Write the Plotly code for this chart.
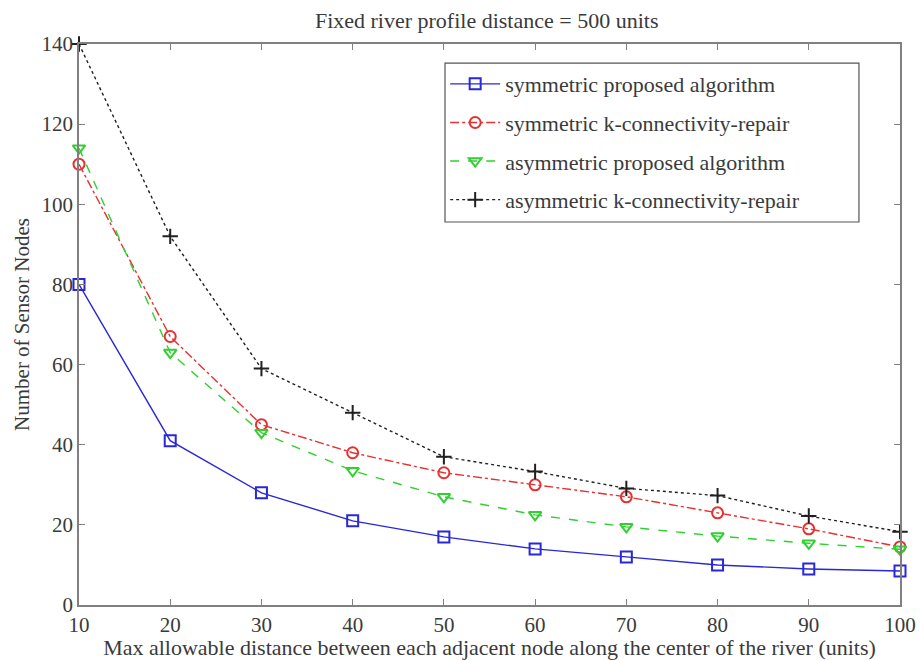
import plotly.graph_objects as go

x_vals = [10, 20, 30, 40, 50, 60, 70, 80, 90, 100]
sym_proposed = [80, 41, 28, 21, 17, 14, 12, 10, 9, 8.5]
sym_kconn = [110, 67, 45, 38, 33, 30, 27, 23, 19, 14.5]
asym_proposed = [114, 63, 43, 33.5, 27, 22.5, 19.5, 17.2, 15.4, 13.9]
asym_kconn = [140, 92, 59, 48, 37, 33.3, 29.1, 27.3, 22.2, 18.3]

x_ticks = [10, 20, 30, 40, 50, 60, 70, 80, 90, 100]
y_ticks = [0, 20, 40, 60, 80, 100, 120, 140]

series = [
    ("symmetric proposed algorithm", sym_proposed, "#2828d8", "solid", "square-open"),
    ("symmetric k-connectivity-repair", sym_kconn, "#e83030", "dashdot", "circle-open"),
    ("asymmetric proposed algorithm", asym_proposed, "#30d030", "dash", "triangle-down-open"),
    ("asymmetric k-connectivity-repair", asym_kconn, "#202020", "dot", "cross-thin-open"),
]

fig = go.Figure()
for i, (name, ys, color, dash, sym) in enumerate(series):
    fig.add_trace(go.Scatter(
        x=x_vals, y=ys, name=name, mode="lines+markers", legendgroup=f"g{i}",
        line=dict(color=color, width=1.4, dash=dash),
        marker=dict(symbol=sym, size=11, color=color, line=dict(color=color, width=2)),
        cliponaxis=False,
    ))

font_family = "Liberation Serif, Times New Roman, serif"
txt_color = "#3a3a3a"
fig.update_layout(
    width=920, height=660,
    margin=dict(l=79, r=20, t=44, b=55),
    paper_bgcolor="white", plot_bgcolor="white",
    font=dict(family=font_family, size=21, color=txt_color),
    title=dict(text="Fixed river profile distance = 500 units", x=0.529, xanchor="center",
               y=0.97, yanchor="middle", font=dict(size=22, family=font_family, color=txt_color)),
    showlegend=True,
    legend=dict(x=0.446, y=0.966, xanchor="left", yanchor="top",
                bgcolor="rgba(0,0,0,0)", borderwidth=0,
                font=dict(size=22, family=font_family, color=txt_color),
                itemwidth=50, tracegroupgap=7),
    shapes=[dict(type="rect", xref="paper", yref="paper",
                 x0=0.4458, x1=0.950, y0=0.6827, y1=0.966,
                 line=dict(color="#555555", width=1.2), fillcolor="white", layer="below")],
)
fig.update_xaxes(
    range=[10, 100], tickvals=x_ticks, ticktext=[str(v) for v in x_ticks],
    showgrid=False, zeroline=False, showline=True, linecolor="#808080", linewidth=1.8,
    mirror="ticks", ticks="inside", ticklen=6, tickcolor="#808080",
    tickfont=dict(size=21), automargin=False,
    title=dict(text="Max allowable distance between each adjacent node along the center of the river (units)",
               standoff=0, font=dict(size=22)),
)
fig.update_yaxes(
    range=[0, 140], tickvals=y_ticks, ticktext=[str(v) for v in y_ticks],
    showgrid=False, zeroline=False, showline=True, linecolor="#808080", linewidth=1.8,
    mirror="ticks", ticks="inside", ticklen=6, tickcolor="#808080",
    tickfont=dict(size=21), automargin=False,
    title=dict(text="Number of Sensor Nodes", standoff=6, font=dict(size=21)),
)

fig.write_html("out.html")
